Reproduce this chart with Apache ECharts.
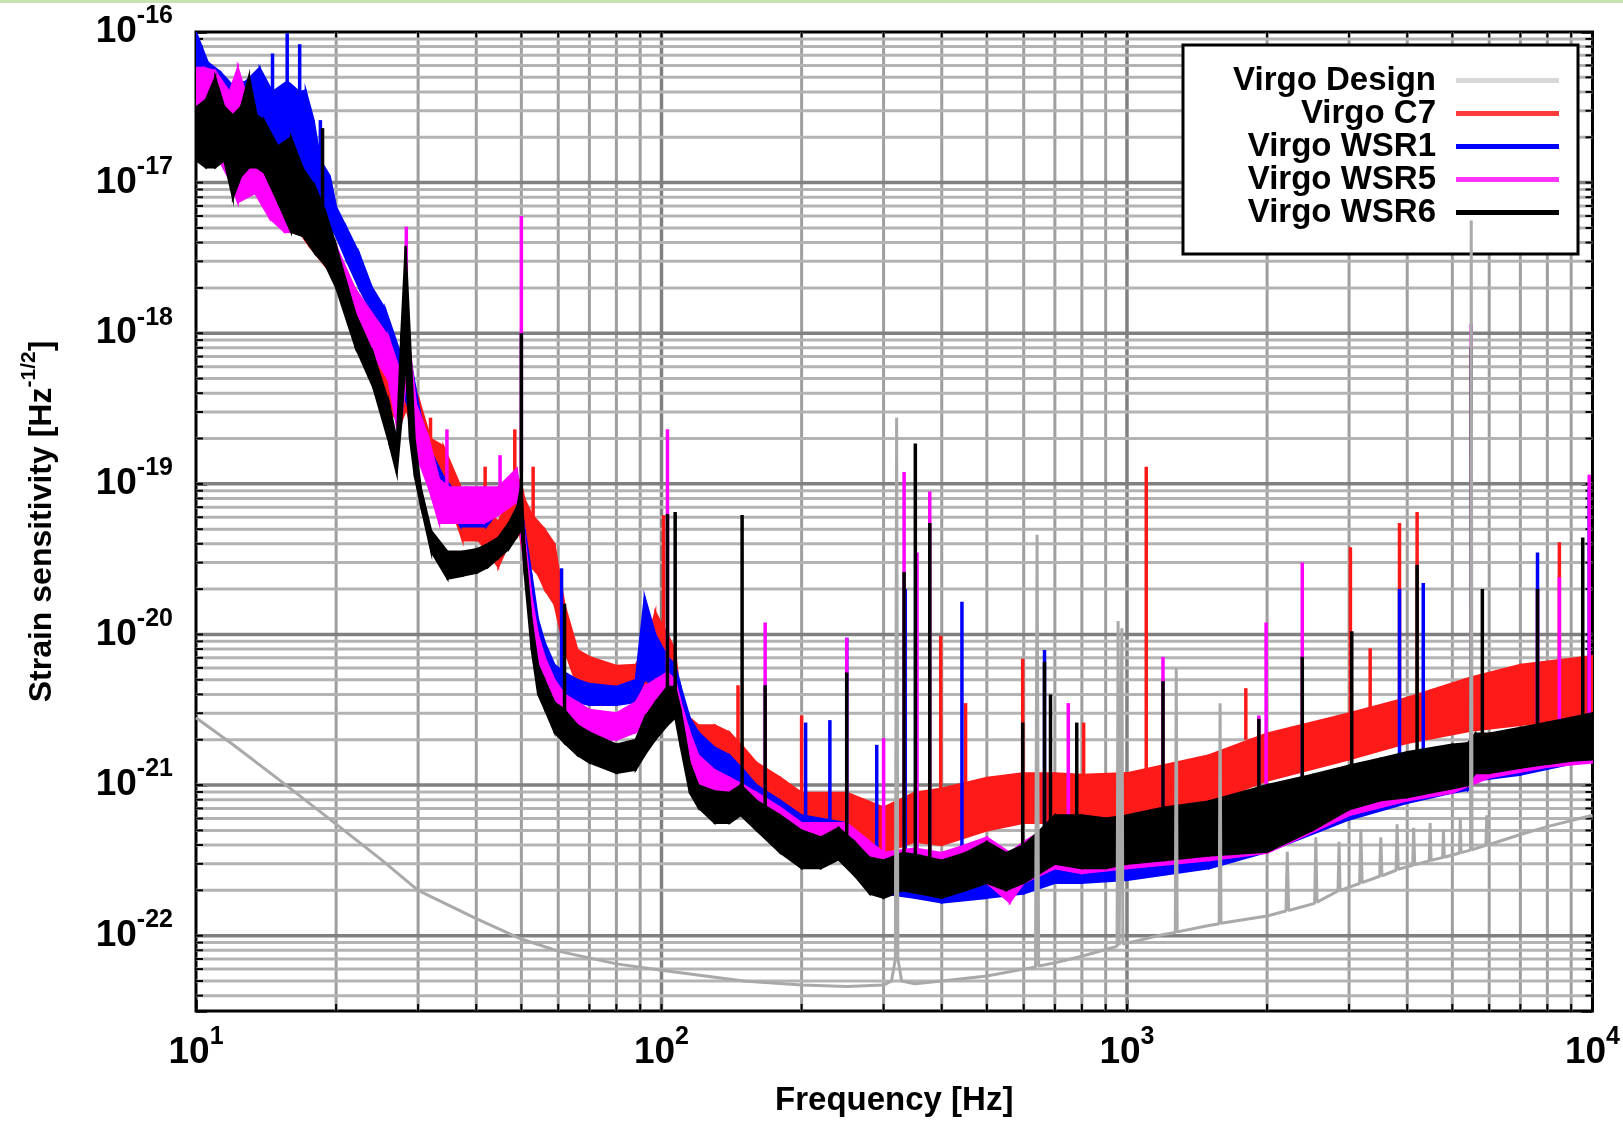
<!DOCTYPE html>
<html><head><meta charset="utf-8">
<script src="https://cdn.jsdelivr.net/npm/echarts@6/dist/echarts.min.js"></script>
<style>html,body{margin:0;padding:0;background:#fff}#c{width:1623px;height:1123px}</style>
</head><body><div id="c"></div>
<script>
// ---------------- DATA (frequency in Hz, strain in 1/sqrt(Hz)) ----------------
const seriesNames = ['Virgo Design', 'Virgo C7', 'Virgo WSR1', 'Virgo WSR5', 'Virgo WSR6'];
const xTickExponents = [1, 2, 3, 4];
const yTickExponents = [-22, -21, -20, -19, -18, -17, -16];
const xLogRange = [1, 4];
const yLogRange = [-22.5, -16];

// Virgo design curve [f, h]
const designCurve = [
  [10, 2.8e-21], [12, 1.86e-21], [15, 1.1e-21], [20, 5.5e-22], [25, 3.2e-22], [30, 2.0e-22],
  [40, 1.3e-22], [50, 9.5e-23], [60, 7.9e-23], [80, 6.5e-23], [100, 5.9e-23], [150, 5.0e-23],
  [200, 4.7e-23], [250, 4.6e-23], [300, 4.7e-23], [312, 5.0e-23], [318, 7e-23], [320, 2.75e-19],
  [322, 7e-23], [328, 5.0e-23], [350, 4.8e-23], [400, 5.0e-23], [500, 5.4e-23], [600, 6.0e-23],
  [636, 6.2e-23], [641, 4.6e-20], [646, 6.3e-23], [700, 6.6e-23], [800, 7.3e-23], [900, 8.1e-23],
  [952, 8.5e-23], [957, 1.23e-20], [962, 8.6e-23], [970, 8.7e-23], [975, 1.1e-20], [980, 8.8e-23],
  [1000, 8.9e-23], [1200, 1.02e-22], [1270, 1.05e-22], [1276, 6.0e-21], [1282, 1.06e-22],
  [1500, 1.17e-22], [1578, 1.2e-22], [1585, 3.5e-21], [1592, 1.21e-22], [2000, 1.35e-22],
  [2195, 1.46e-22], [2210, 3.6e-22], [2225, 1.47e-22], [2530, 1.64e-22], [2545, 4.5e-22], [2560, 1.67e-22],
  [2840, 1.98e-22], [2855, 4.2e-22], [2870, 2.0e-22], [3160, 2.22e-22], [3180, 5.0e-22], [3200, 2.25e-22],
  [3490, 2.48e-22], [3510, 4.5e-22], [3530, 2.5e-22], [3785, 2.72e-22], [3805, 5.5e-22], [3825, 2.76e-22],
  [4110, 2.93e-22], [4130, 5.2e-22], [4150, 2.96e-22], [4460, 3.14e-22], [4480, 5.6e-22], [4500, 3.17e-22],
  [4765, 3.3e-22], [4785, 5.0e-22], [4805, 3.32e-22], [5180, 3.54e-22], [5200, 6.0e-22], [5220, 3.56e-22],
  [5470, 3.7e-22], [5490, 5.6e-18], [5510, 3.72e-22], [5900, 3.98e-22], [5930, 6.3e-22], [5960, 4.0e-22],
  [7000, 4.7e-22], [8000, 5.3e-22], [10000, 6.3e-22]
];

// Noise bands [f, lower edge, upper edge]
const c7Band = [
  [10, 1.58e-17, 5.0e-17], [12, 1.26e-17, 3.55e-17], [13.5, 1.41e-17, 2.6e-17], [14.5, 1.12e-17, 2.0e-17],
  [16, 5.6e-18, 1.12e-17], [17.5, 3.8e-18, 6.9e-18], [19.5, 2.5e-18, 4.4e-18], [21.9, 1.23e-18, 2.0e-18],
  [24.9, 3.6e-19, 9.5e-19], [27.5, 2.5e-19, 5.8e-19], [28.3, 3.16e-19, 1.0e-18], [29.2, 2.2e-19, 5.0e-19],
  [30.3, 1.58e-19, 3.4e-19], [31.9, 1.26e-19, 2.0e-19], [34, 1.0e-19, 1.78e-19], [37.4, 4.2e-20, 8.9e-20],
  [40.5, 4.2e-20, 7.9e-20], [43, 3.3e-20, 6.3e-20], [44.6, 2.8e-20, 5.6e-20], [47, 4.0e-20, 7.9e-20],
  [48.9, 6.3e-20, 1.12e-19], [50, 4.0e-20, 1.0e-19], [50.8, 3.16e-20, 7.9e-20], [52.6, 2.8e-20, 6.3e-20],
  [54.3, 2.5e-20, 5.6e-20], [56.1, 2.0e-20, 5.0e-20], [58.9, 1.58e-20, 4.0e-20], [61.9, 7.9e-21, 1.58e-20],
  [66, 4.5e-21, 7.9e-21], [70, 4.5e-21, 7.1e-21], [80, 4.2e-21, 6.2e-21], [88, 4.0e-21, 6.3e-21],
  [92, 4.0e-21, 7.9e-21], [97, 5.0e-21, 1.41e-20], [103, 4.0e-21, 1.0e-20], [107, 3.55e-21, 7.9e-21],
  [110, 2.0e-21, 3.55e-21], [115, 1.78e-21, 2.8e-21], [120, 1.58e-21, 2.5e-21], [130, 1.41e-21, 2.5e-21],
  [140, 1.26e-21, 2.24e-21], [150, 1.12e-21, 1.78e-21], [160, 8.9e-22, 1.41e-21], [180, 7.1e-22, 1.12e-21],
  [200, 5.6e-22, 8.9e-22], [250, 5.0e-22, 8.9e-22], [300, 3.55e-22, 7.1e-22], [350, 4.2e-22, 8.9e-22],
  [400, 4.0e-22, 9.5e-22], [500, 5.0e-22, 1.12e-21], [600, 5.6e-22, 1.2e-21], [700, 5.6e-22, 1.2e-21],
  [800, 5.6e-22, 1.17e-21], [1000, 6.0e-22, 1.2e-21], [1500, 7.6e-22, 1.58e-21], [2000, 1.07e-21, 2.2e-21],
  [3000, 1.48e-21, 3.0e-21], [4000, 1.9e-21, 3.8e-21], [5500, 2.3e-21, 5.2e-21], [7000, 2.5e-21, 6.3e-21],
  [9000, 2.75e-21, 6.9e-21], [10000, 2.9e-21, 7.2e-21]
];
const wsr1Band = [
  [10, 2.6e-17, 1.0e-16], [10.6, 1.74e-17, 6.3e-17], [11.3, 1.45e-17, 5.4e-17], [12, 1.35e-17, 4.4e-17],
  [12.8, 1.58e-17, 4.7e-17], [13.7, 1.74e-17, 5.8e-17], [14.6, 1.3e-17, 4.0e-17], [15.7, 1.12e-17, 4.7e-17],
  [16.7, 1.17e-17, 4.0e-17], [17.2, 1.0e-17, 4.1e-17], [17.9, 7.8e-18, 2.6e-17], [18.5, 5.8e-18, 1.41e-17],
  [19.4, 5.1e-18, 1.1e-17], [20, 4.4e-18, 6.9e-18], [21, 3.1e-18, 5.1e-18], [22.4, 2.0e-18, 3.4e-18],
  [23.9, 1.35e-18, 2.0e-18], [25.5, 9.1e-19, 1.45e-18], [27.3, 4.9e-19, 7.8e-19], [28.7, 3.1e-19, 7.4e-19],
  [30.3, 1.74e-19, 2.95e-19], [32, 1.12e-19, 1.62e-19], [34, 7.9e-20, 1.12e-19], [37, 5.2e-20, 7.9e-20],
  [42, 5.2e-20, 7.9e-20], [45, 6.8e-20, 9.5e-20], [49, 7.6e-20, 1.12e-19], [50.8, 3.16e-20, 5.0e-20],
  [52.6, 1.41e-20, 2.5e-20], [54.3, 7.9e-21, 1.26e-20], [56.1, 5.6e-21, 8.9e-21], [58.9, 4.0e-21, 6.3e-21],
  [61.9, 3.55e-21, 5.6e-21], [66, 3.55e-21, 5.0e-21], [70, 3.4e-21, 4.7e-21], [80, 3.4e-21, 4.5e-21],
  [88, 3.55e-21, 5.0e-21], [92, 5.0e-21, 1.78e-20], [97, 4.5e-21, 1.0e-20], [103, 3.55e-21, 7.1e-21],
  [107, 3.55e-21, 6.3e-21], [110, 2.5e-21, 4.5e-21], [115, 1.78e-21, 2.8e-21], [120, 1.41e-21, 2.24e-21],
  [130, 1.12e-21, 1.78e-21], [140, 1.0e-21, 1.58e-21], [150, 7.9e-22, 1.26e-21], [160, 6.3e-22, 1.0e-21],
  [180, 5.0e-22, 7.9e-22], [200, 4.0e-22, 6.3e-22], [250, 3.55e-22, 5.6e-22], [300, 1.9e-22, 3.16e-22],
  [350, 1.78e-22, 3.16e-22], [400, 1.66e-22, 3.0e-22], [500, 1.78e-22, 3.3e-22], [600, 1.9e-22, 3.55e-22],
  [700, 2.24e-22, 4.5e-22], [800, 2.24e-22, 4.5e-22], [1000, 2.34e-22, 4.7e-22], [1500, 2.8e-22, 5.6e-22],
  [2000, 3.6e-22, 7.1e-22], [3000, 5.9e-22, 1.05e-21], [4000, 7.6e-22, 1.32e-21], [5000, 8.9e-22, 1.58e-21],
  [5400, 9.3e-22, 1.66e-21], [5600, 1.07e-21, 1.9e-21], [7000, 1.17e-21, 2.1e-21], [10000, 1.48e-21, 2.6e-21]
];
const wsr5Band = [
  [10, 1.58e-17, 5.8e-17], [10.4, 1.78e-17, 5.8e-17], [11, 1.58e-17, 5.5e-17], [11.8, 1.05e-17, 4.0e-17],
  [12.3, 7.4e-18, 5.8e-17], [13.4, 8.5e-18, 2.4e-17], [14.4, 5.8e-18, 1.45e-17], [15.5, 4.7e-18, 1.05e-17],
  [16.6, 4.7e-18, 8.5e-18], [17.9, 3.8e-18, 6.9e-18], [19, 3.1e-18, 5.8e-18], [20.3, 2.0e-18, 3.4e-18],
  [21.9, 1.23e-18, 2.0e-18], [23.9, 7.4e-19, 1.35e-18], [25.9, 4.9e-19, 9.5e-19], [27.3, 2.0e-19, 5.8e-19],
  [28.3, 5.0e-19, 1.26e-18], [29.7, 1.58e-19, 3.4e-19], [31.6, 9.5e-20, 2.0e-19], [33.3, 5.5e-20, 1.07e-19],
  [35, 5.5e-20, 9.5e-20], [38, 5.5e-20, 9.5e-20], [41.6, 5.5e-20, 9.5e-20], [44.6, 6.2e-20, 9.5e-20],
  [48.9, 7.6e-20, 1.26e-19], [50.8, 2.8e-20, 4.5e-20], [52.6, 1.0e-20, 1.78e-20], [54.3, 5.6e-21, 1.0e-20],
  [56.1, 4.0e-21, 7.1e-21], [58.9, 3.16e-21, 5.0e-21], [61.9, 2.5e-21, 4.0e-21], [66, 2.24e-21, 3.55e-21],
  [70, 2.0e-21, 3.16e-21], [80, 2.0e-21, 3.0e-21], [88, 2.24e-21, 3.55e-21], [92, 2.5e-21, 4.5e-21],
  [97, 2.8e-21, 5.0e-21], [103, 3.16e-21, 5.6e-21], [107, 3.16e-21, 5.0e-21], [110, 2.24e-21, 3.55e-21],
  [115, 1.41e-21, 2.24e-21], [120, 1.0e-21, 1.58e-21], [130, 7.9e-22, 1.26e-21], [140, 7.1e-22, 1.12e-21],
  [150, 6.3e-22, 1.0e-21], [160, 5.6e-22, 8.9e-22], [180, 4.5e-22, 7.1e-22], [200, 3.55e-22, 5.6e-22],
  [250, 3.55e-22, 5.6e-22], [300, 2.0e-22, 3.55e-22], [350, 2.0e-22, 3.8e-22], [400, 1.9e-22, 3.55e-22],
  [450, 2.1e-22, 4.0e-22], [500, 2.24e-22, 4.5e-22], [560, 1.66e-22, 3.55e-22], [600, 2.24e-22, 4.2e-22],
  [700, 2.8e-22, 5.6e-22], [800, 2.6e-22, 5.6e-22], [1000, 2.8e-22, 6.0e-22], [1500, 3.16e-22, 7.1e-22],
  [2000, 3.55e-22, 8.9e-22], [3000, 6.3e-22, 1.26e-21], [4000, 7.9e-22, 1.58e-21], [5000, 8.9e-22, 1.78e-21],
  [6000, 1.12e-21, 2.1e-21], [8000, 1.32e-21, 2.5e-21], [10000, 1.41e-21, 2.8e-21]
];
const wsr6Band = [
  [10, 1.41e-17, 3.16e-17], [10.5, 1.26e-17, 3.55e-17], [11, 1.26e-17, 5.0e-17], [11.5, 1.4e-17, 3.2e-17],
  [12, 7.9e-18, 2.8e-17], [12.5, 1.1e-17, 3.2e-17], [13, 1.26e-17, 5.1e-17], [13.5, 1.26e-17, 2.8e-17],
  [14, 1.17e-17, 2.6e-17], [15, 7.4e-18, 1.74e-17], [16, 4.7e-18, 2.0e-17], [17, 4.4e-18, 1.23e-17],
  [18, 3.4e-18, 9.5e-18], [19, 2.8e-18, 6.3e-18], [20, 2.0e-18, 3.8e-18], [22, 8.1e-19, 1.35e-18],
  [24, 4.4e-19, 7.4e-19], [26, 1.86e-19, 3.4e-19], [27, 1.17e-19, 1.95e-19], [27.6, 2.5e-19, 1.0e-18],
  [28.2, 6.3e-19, 3.8e-18], [28.8, 2.0e-19, 1.0e-18], [29.5, 1.12e-19, 2.0e-19], [30.4, 7.2e-20, 9.5e-20],
  [32, 3.55e-20, 4.9e-20], [34.7, 2.34e-20, 3.55e-20], [37.4, 2.45e-20, 3.55e-20], [40.2, 2.57e-20, 3.7e-20],
  [42.4, 2.8e-20, 4.0e-20], [44.6, 3.2e-20, 4.4e-20], [47, 3.7e-20, 5.5e-20], [49, 4.5e-20, 7.1e-20],
  [50, 5.0e-20, 1.0e-19], [50.8, 2.5e-20, 4.0e-20], [52.6, 7.9e-21, 1.26e-20], [54.3, 4.0e-21, 6.3e-21],
  [56.1, 3.2e-21, 5.0e-21], [58.9, 2.24e-21, 3.55e-21], [61.9, 1.9e-21, 3.16e-21], [66, 1.58e-21, 2.5e-21],
  [70, 1.41e-21, 2.24e-21], [80, 1.2e-21, 1.86e-21], [88, 1.26e-21, 2.0e-21], [92, 1.58e-21, 2.8e-21],
  [97, 2.0e-21, 3.55e-21], [103, 2.5e-21, 4.5e-21], [107, 2.8e-21, 4.5e-21], [110, 1.78e-21, 3.16e-21],
  [115, 8.9e-22, 1.41e-21], [120, 7.1e-22, 1.0e-21], [130, 5.6e-22, 9.1e-22], [140, 5.6e-22, 8.9e-22],
  [148, 6.3e-22, 1.0e-21], [160, 5.0e-22, 7.9e-22], [180, 3.55e-22, 6.3e-22], [200, 2.8e-22, 5.0e-22],
  [220, 2.8e-22, 4.5e-22], [240, 3.2e-22, 5.2e-22], [260, 2.5e-22, 4.2e-22], [280, 1.9e-22, 3.3e-22],
  [300, 1.78e-22, 3.16e-22], [330, 2.0e-22, 3.55e-22], [360, 1.9e-22, 3.4e-22], [400, 1.78e-22, 3.16e-22],
  [450, 2.0e-22, 3.55e-22], [500, 2.24e-22, 4.2e-22], [550, 2.0e-22, 3.55e-22], [600, 2.24e-22, 4.0e-22],
  [650, 2.6e-22, 5.0e-22], [700, 3.0e-22, 6.3e-22], [800, 2.8e-22, 6.3e-22], [900, 2.8e-22, 6.0e-22],
  [1000, 3.0e-22, 6.3e-22], [1200, 3.16e-22, 7.1e-22], [1500, 3.4e-22, 7.8e-22], [2000, 3.6e-22, 1.0e-21],
  [2500, 5.0e-22, 1.17e-21], [3000, 6.9e-22, 1.35e-21], [3500, 7.9e-22, 1.5e-21], [4000, 8.3e-22, 1.66e-21],
  [5000, 9.5e-22, 1.86e-21], [5400, 1.0e-21, 1.9e-21], [5600, 1.2e-21, 2.2e-21], [6000, 1.2e-21, 2.2e-21],
  [7000, 1.3e-21, 2.4e-21], [8000, 1.38e-21, 2.6e-21], [9000, 1.45e-21, 2.8e-21], [10000, 1.48e-21, 3.0e-21]
];

// Narrow lines [f, base, top]
const c7Spikes = [
  [31.9, 1.8e-19, 2.75e-19], [41.8, 7e-20, 1.3e-19], [48.4, 1e-19, 2.3e-19], [53, 6e-20, 1.3e-19],
  [101, 1e-20, 6.2e-20], [146, 1.8e-21, 4.6e-21], [200, 8e-22, 2.9e-21], [398, 8e-22, 9.8e-21],
  [450, 9e-22, 3.5e-21], [597, 1e-21, 6.9e-21], [807, 1e-21, 2.6e-21], [1100, 1.2e-21, 1.3e-19],
  [1800, 2e-21, 4.4e-21], [3020, 2.8e-21, 3.8e-20], [3330, 3e-21, 8.1e-21], [3850, 3.3e-21, 5.5e-20],
  [4200, 3.6e-21, 6.5e-20], [8490, 6e-21, 4.1e-20]
];
const wsr1Spikes = [
  [14.6, 3e-17, 7.2e-17], [15.7, 3e-17, 9.8e-17], [16.7, 3e-17, 8.3e-17], [18.5, 1.2e-17, 2.6e-17],
  [61, 5e-21, 2.75e-20], [204, 6e-22, 2.6e-21], [230, 5e-22, 2.7e-21], [250, 5e-22, 9.5e-21],
  [290, 3e-22, 1.85e-21], [334, 3e-22, 2.0e-20], [442, 3e-22, 1.65e-20], [665, 4e-22, 7.9e-21],
  [3850, 1e-21, 2.0e-20], [4330, 1e-21, 2.2e-20], [7620, 1.8e-21, 3.5e-20], [9840, 2.2e-21, 9.5e-20]
];
const wsr5Spikes = [
  [28.3, 9e-19, 5.1e-18], [34.6, 9e-20, 2.3e-19], [45, 9e-20, 1.55e-19], [50, 1.2e-19, 6.0e-18],
  [103, 5e-21, 2.3e-19], [167, 8e-22, 1.2e-20], [250, 5e-22, 9.5e-21], [300, 3.5e-22, 2.05e-21],
  [332, 3.5e-22, 1.2e-19], [354, 3.5e-22, 3.5e-20], [377, 3.5e-22, 8.9e-20], [748, 5e-22, 3.5e-21],
  [1195, 6e-22, 7.1e-21], [1920, 8e-22, 2.9e-21], [1990, 8e-22, 1.2e-20], [2380, 1e-21, 3.0e-20],
  [5490, 1.6e-21, 1.15e-18], [7620, 2e-21, 2.0e-20], [8490, 2e-21, 2.4e-20], [9840, 2.5e-21, 1.15e-19]
];
const wsr6Spikes = [
  [18.7, 6e-18, 2.3e-17], [50, 5e-20, 1.0e-18], [61.9, 2.5e-21, 1.6e-20], [103, 3e-21, 6.3e-20],
  [107, 3e-21, 6.5e-20], [149, 7e-22, 6.2e-20], [167, 5e-22, 4.6e-21], [250, 3.5e-22, 5.6e-21],
  [332, 2.5e-22, 2.6e-20], [351, 2.5e-22, 1.85e-19], [377, 2.5e-22, 5.5e-20], [597, 3e-22, 2.6e-21],
  [665, 3.5e-22, 6.6e-21], [685, 3.5e-22, 4.0e-21], [780, 4e-22, 2.6e-21], [1195, 5e-22, 4.9e-21],
  [1920, 6e-22, 2.75e-21], [2380, 7e-22, 7.1e-21], [3040, 9e-22, 1.05e-20], [4200, 1.1e-21, 2.9e-20],
  [5490, 1.3e-21, 8e-19], [5800, 1.5e-21, 2.0e-20], [7620, 1.8e-21, 2.0e-20], [9530, 2e-21, 4.4e-20]
];

// ---------------- STYLE ----------------
const FONT = '"Liberation Sans", Arial, Helvetica, sans-serif';
const lineColors = ['#a9a9a9', '#ff1a1a', '#0000ff', '#ff00ff', '#000000'];
const legendColors = ['#d8d8d8', '#ff3a3a', '#0000ff', '#ff33ff', '#000000'];
const L = Math.log10;
const minorMult = [2, 3, 4, 5, 6, 7, 8, 9];

// grid lines [orientation (0 vertical, 1 horizontal), log value, major]
const gridItems = [];
for (let d = xLogRange[0]; d < xLogRange[1]; d++) minorMult.forEach(m => gridItems.push([0, d + L(m), 0]));
for (let d = xLogRange[0] + 1; d < xLogRange[1]; d++) gridItems.push([0, d, 1]);
for (let d = -23; d < yLogRange[1]; d++) minorMult.forEach(m => { const v = d + L(m); if (v > yLogRange[0] && v < yLogRange[1]) gridItems.push([1, v, 0]); });
yTickExponents.forEach(e => { if (e < yLogRange[1]) gridItems.push([1, e, 1]); });

const chart = echarts.init(document.getElementById('c'), null, { renderer: 'canvas' });

function gridRender(params, api) {
  const it = gridItems[params.dataIndex];
  const cs = params.coordSys;
  const major = it[2] === 1;
  const stroke = major ? '#808080' : (it[0] === 0 ? '#9e9e9e' : '#b3b3b3');
  const lw = major ? 3.5 : 3;
  const tl = 7;
  let main, t1, t2;
  if (it[0] === 0) {
    const x = api.coord([it[1], yLogRange[0]])[0];
    main = { x1: x, y1: cs.y, x2: x, y2: cs.y + cs.height };
    t1 = { x1: x, y1: cs.y + cs.height, x2: x, y2: cs.y + cs.height - tl };
    t2 = { x1: x, y1: cs.y, x2: x, y2: cs.y + tl };
  } else {
    const y = api.coord([xLogRange[0], it[1]])[1];
    main = { x1: cs.x, y1: y, x2: cs.x + cs.width, y2: y };
    t1 = { x1: cs.x, y1: y, x2: cs.x + tl, y2: y };
    t2 = { x1: cs.x + cs.width, y1: y, x2: cs.x + cs.width - tl, y2: y };
  }
  return { type: 'group', children: [
    { type: 'line', shape: main, style: { stroke, lineWidth: lw } },
    { type: 'line', shape: t1, style: { stroke: '#000', lineWidth: 2 } },
    { type: 'line', shape: t2, style: { stroke: '#000', lineWidth: 2 } }
  ] };
}

function bandSeries(name, band, color) {
  return {
    type: 'custom', name, z: 2, clip: true, silent: true,
    itemStyle: { color },
    data: band.map(p => [L(p[0]), L(p[1]), L(p[2])]),
    encode: { x: 0, y: [1, 2] },
    renderItem: (params, api) => {
      const i = params.dataIndex;
      if (i >= band.length - 1) return null;
      const a = band[i], b = band[i + 1];
      const pts = [
        api.coord([L(a[0]), L(a[2])]), api.coord([L(b[0]), L(b[2])]),
        api.coord([L(b[0]), L(b[1])]), api.coord([L(a[0]), L(a[1])])
      ];
      return { type: 'polygon', shape: { points: pts }, style: { fill: color, stroke: color, lineWidth: 2 } };
    }
  };
}
function spikeSeries(name, spikes, color) {
  return {
    type: 'custom', name, z: 2, clip: true, silent: true,
    itemStyle: { color },
    data: spikes.map(p => [L(p[0]), L(p[1]), L(p[2])]),
    encode: { x: 0, y: [1, 2] },
    renderItem: (params, api) => {
      const s = spikes[params.dataIndex];
      const p1 = api.coord([L(s[0]), L(s[1])]), p2 = api.coord([L(s[0]), L(s[2])]);
      return { type: 'line', shape: { x1: p1[0], y1: p1[1], x2: p2[0], y2: p2[1] }, style: { stroke: color, lineWidth: 3.5 } };
    }
  };
}

const tickRich = {
  b: { fontFamily: FONT, fontSize: 37, fontWeight: 'bold', lineHeight: 56, color: '#000' },
  e: { fontFamily: FONT, fontSize: 25, fontWeight: 'bold', lineHeight: 25, verticalAlign: 'top', color: '#000' }
};
const expLabel = v => {
  const r = Math.round(v);
  return Math.abs(v - r) < 1e-9 ? '{b|10}{e|' + r + '}' : '';
};

const option = {
  animation: false,
  backgroundColor: '#fff',
  grid: { left: 196, right: 23, top: 32, bottom: 112, show: true, borderColor: '#000', borderWidth: 3, backgroundColor: 'transparent' },
  xAxis: [{
    type: 'value', min: xLogRange[0], max: xLogRange[1], interval: 1,
    axisLine: { show: false }, splitLine: { show: false },
    axisTick: { inside: true, length: 11, lineStyle: { color: '#000', width: 2.5 } },
    axisLabel: { margin: 14, formatter: expLabel, rich: tickRich, showMinLabel: true, showMaxLabel: true },
    name: 'Frequency [Hz]', nameLocation: 'middle', nameGap: 73,
    nameTextStyle: { fontFamily: FONT, fontSize: 33, fontWeight: 'bold', color: '#000' }
  }, {
    type: 'value', position: 'top', min: xLogRange[0], max: xLogRange[1], interval: 1,
    axisLine: { show: false }, splitLine: { show: false }, axisLabel: { show: false },
    axisTick: { inside: true, length: 11, lineStyle: { color: '#000', width: 2.5 } }
  }],
  yAxis: [{
    type: 'value', min: yLogRange[0], max: yLogRange[1], splitNumber: 6,
    axisLine: { show: false }, splitLine: { show: false },
    axisTick: { inside: true, length: 11, lineStyle: { color: '#000', width: 2.5 } },
    axisLabel: { margin: 23, formatter: expLabel, rich: tickRich, showMinLabel: true, showMaxLabel: true },
    name: '{n|Strain sensitivity [Hz}{s|-1/2}{n|]}', nameLocation: 'middle', nameGap: 131, nameRotate: 90,
    nameTextStyle: { color: '#000', rich: {
      n: { fontFamily: FONT, fontSize: 32, fontWeight: 'bold', lineHeight: 46, color: '#000' },
      s: { fontFamily: FONT, fontSize: 21, fontWeight: 'bold', lineHeight: 21, verticalAlign: 'top', color: '#000' }
    } }
  }, {
    type: 'value', position: 'right', min: yLogRange[0], max: yLogRange[1], splitNumber: 6,
    axisLine: { show: false }, splitLine: { show: false }, axisLabel: { show: false },
    axisTick: { inside: true, length: 11, lineStyle: { color: '#000', width: 2.5 } }
  }],
  legend: {
    orient: 'vertical', align: 'right', right: 64, top: 64, padding: 0,
    itemWidth: 103, itemHeight: 5, itemGap: 0, icon: 'rect', selectedMode: false,
    data: seriesNames.map((n, i) => ({ name: n, itemStyle: { color: legendColors[i] } })),
    formatter: n => '{t|' + n + '}',
    textStyle: { rich: { t: { fontFamily: FONT, fontSize: 33, fontWeight: 'bold', color: '#000', lineHeight: 35, padding: [0, 15, 0, 0] } } }
  },
  graphic: { elements: [
    { type: 'rect', z: 1.5, shape: { x: 1183, y: 45, width: 395, height: 209 }, style: { fill: '#fff', stroke: '#000', lineWidth: 3 } },
    { type: 'rect', z: 1.5, shape: { x: 0, y: 0, width: 1623, height: 3 }, style: { fill: '#c6e3b2' } }
  ] },
  series: [
    { type: 'custom', name: 'grid', z: 1, silent: true, data: gridItems.map((g, i) => [g[1], i]),
      encode: { x: 0 }, renderItem: gridRender },
    { type: 'line', name: seriesNames[0], z: 2, silent: true, showSymbol: false, symbol: 'none', clip: true,
      lineStyle: { color: lineColors[0], width: 3 }, itemStyle: { color: lineColors[0] },
      data: designCurve.map(p => [L(p[0]), L(p[1])]) },
    bandSeries(seriesNames[1], c7Band, lineColors[1]),
    spikeSeries(seriesNames[1], c7Spikes, lineColors[1]),
    bandSeries(seriesNames[2], wsr1Band, lineColors[2]),
    spikeSeries(seriesNames[2], wsr1Spikes, lineColors[2]),
    bandSeries(seriesNames[3], wsr5Band, lineColors[3]),
    spikeSeries(seriesNames[3], wsr5Spikes, lineColors[3]),
    bandSeries(seriesNames[4], wsr6Band, lineColors[4]),
    spikeSeries(seriesNames[4], wsr6Spikes, lineColors[4])
  ]
};
chart.setOption(option);
</script></body></html>
